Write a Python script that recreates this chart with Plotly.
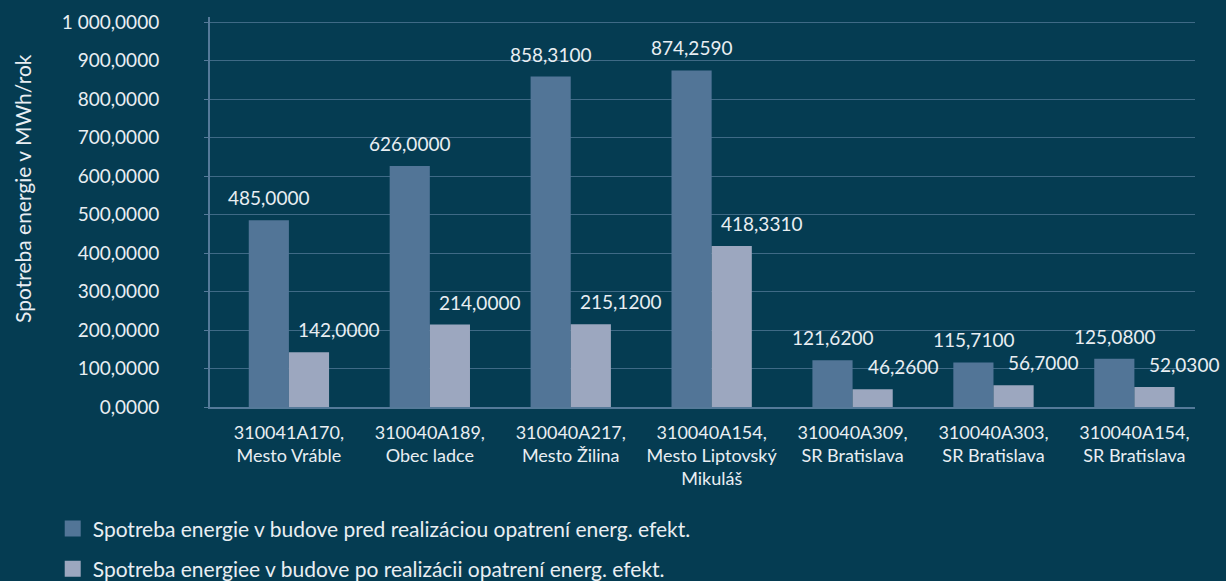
import plotly.graph_objects as go

categories = [
    "310041A170,<br>Mesto Vráble",
    "310040A189,<br>Obec ladce",
    "310040A217,<br>Mesto Žilina",
    "310040A154,<br>Mesto Liptovský<br>Mikuláš",
    "310040A309,<br>SR Bratislava",
    "310040A303,<br>SR Bratislava",
    "310040A154,<br>SR Bratislava",
]
before = [485.0, 626.0, 858.31, 874.259, 121.62, 115.71, 125.08]
after = [142.0, 214.0, 215.12, 418.331, 46.26, 56.70, 52.03]
series_names = [
    "Spotreba energie v budove pred realizáciou opatrení energ. efekt.",
    "Spotreba energiee v budove po realizácii opatrení energ. efekt.",
]
y_title = "Spotreba energie v MWh/rok"
y_ticks = [0, 100, 200, 300, 400, 500, 600, 700, 800, 900, 1000]

BG = "#053C52"
C1 = "#527597"
C2 = "#9CA7BF"
GRID = "#3F6A86"
AXIS = "#557A99"
TXT = "#E9EEF2"
FONT = "Lato, 'Open Sans', sans-serif"

def fmt(v):
    s = f"{v:,.4f}"
    return s.replace(",", " ").replace(".", ",")

x = list(range(len(categories)))

fig = go.Figure()
fig.add_trace(go.Bar(x=x, y=before, name=series_names[0], marker_color=C1,
                     marker_line_width=0, showlegend=False, hoverinfo="y"))
fig.add_trace(go.Bar(x=x, y=after, name=series_names[1], marker_color=C2,
                     marker_line_width=0, showlegend=False, hoverinfo="y"))
# legend entries (larger square swatches)
for name, col, grp in [(series_names[0], C1, "a"), (series_names[1], C2, "b")]:
    fig.add_trace(go.Scatter(x=[None], y=[None], mode="markers", name=name,
                             legendgroup=grp,
                             marker=dict(symbol="square", size=18, color=col)))

ann = []
for i, v in enumerate(before):
    ann.append(dict(x=i, y=v, xref="x", yref="y", text=fmt(v), showarrow=False,
                    xshift=-20, yshift=9, yanchor="bottom",
                    font=dict(color=TXT, size=19, family=FONT)))
for i, v in enumerate(after):
    ann.append(dict(x=i, y=v, xref="x", yref="y", text=fmt(v), showarrow=False,
                    xshift=50, yshift=9, yanchor="bottom",
                    font=dict(color=TXT, size=19, family=FONT)))
ann.append(dict(x=(22 - 210) / 985, y=(407 - 189) / 390, xref="paper", yref="paper",
                text=y_title, textangle=-90, showarrow=False,
                xanchor="center", yanchor="middle",
                font=dict(color=TXT, size=21, family=FONT)))

fig.update_layout(
    width=1226, height=581,
    paper_bgcolor=BG, plot_bgcolor=BG,
    barmode="group", bargap=0.43, bargroupgap=0,
    separators=", ",
    margin=dict(l=210, r=31, t=17, b=174, pad=0, autoexpand=False),
    font=dict(family=FONT, color=TXT, size=15),
    annotations=ann,
    showlegend=True,
    legend=dict(
        xref="container", yref="container",
        x=0.043, y=0.125, xanchor="left", yanchor="top",
        orientation="v", tracegroupgap=10, itemsizing="trace",
        font=dict(size=21, color=TXT, family=FONT),
        bgcolor="rgba(0,0,0,0)", itemwidth=30,
    ),
    xaxis=dict(
        tickmode="array", tickvals=x, ticktext=categories,
        range=[-0.56, len(categories) - 0.57],
        showgrid=False, zeroline=False,
        showline=True, linecolor=AXIS, linewidth=2,
        ticks="", tickangle=0, tickfont=dict(size=18, color=TXT),
        ticklabelstandoff=8,
        automargin=False, fixedrange=True,
    ),
    yaxis=dict(
        range=[0, 1013],
        tickvals=y_ticks, tickformat=",.4f",
        showgrid=True, gridcolor=GRID, gridwidth=1,
        zeroline=False,
        showline=True, linecolor=AXIS, linewidth=2,
        ticks="outside", ticklen=4, tickcolor=AXIS,
        tickfont=dict(size=19, color=TXT),
        ticklabelstandoff=41,
        automargin=False, fixedrange=True,
    ),
)

fig.write_html("out.html", config={"displayModeBar": False},
               post_script="document.body.style.margin='0';")
